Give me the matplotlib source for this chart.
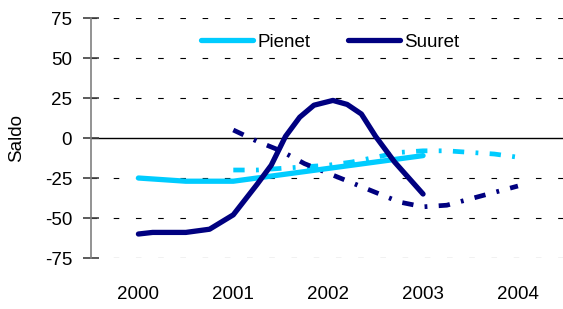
import matplotlib
matplotlib.use('Agg')
import matplotlib.pyplot as plt
import numpy as np

plt.rcParams['font.family'] = ['Liberation Sans Narrow', 'Liberation Sans', 'DejaVu Sans']
plt.rcParams['axes.unicode_minus'] = False

# neljännesvuodet (toteutunut)
pienet_x = [2000.0, 2000.25, 2000.5, 2000.75, 2001.0, 2001.25, 2001.5, 2001.75,
            2002.0, 2002.25, 2002.5, 2002.75, 2003.0]
pienet = [-25, -26, -27, -27, -27, -25, -23, -21, -19, -17, -15, -13, -11]

suuret_x = [2000.0, 2000.15, 2000.5, 2000.75, 2001.0, 2001.25, 2001.4, 2001.55, 2001.7,
            2001.85, 2002.05, 2002.2, 2002.35, 2002.5, 2002.7, 2003.0]
suuret = [-60, -59, -59, -57, -48, -29, -17, 1, 13, 20.5, 23.5, 21, 15, 1, -15, -35]

# ennusteet (katkoviiva)
ennuste_x = [2001.0, 2001.25, 2001.5, 2001.75, 2002.0, 2002.25, 2002.5, 2002.75,
             2003.0, 2003.25, 2003.5, 2003.75, 2004.0]
pienet_ennuste = [-20, -20, -19, -18, -17, -15, -12, -9, -8, -8, -9, -10, -12]
suuret_ennuste = [5, -2, -8, -16, -22, -28, -34, -40, -43, -42, -38, -34, -30]

years = [2000, 2001, 2002, 2003, 2004]
yticks = [-75, -50, -25, 0, 25, 50, 75]

cyan = '#00CCFF'
navy = '#000080'

fig = plt.figure(figsize=(5.63, 3.09), dpi=100)
ax = fig.add_axes([0.1616, 0.165, 0.8384, 0.7767])

# apuviivat
for v in yticks:
    if v == 0:
        ax.axhline(0, color='black', lw=1.0, zorder=1)
    else:
        ax.axhline(v, color='black', lw=0.8, dashes=(5, 15), zorder=1)

ax.plot(ennuste_x, pienet_ennuste, color=cyan, lw=3.4, dashes=(2.4, 2.4, 0.6, 2.4),
        dash_capstyle='butt', zorder=2)
ax.plot(ennuste_x, suuret_ennuste, color=navy, lw=3.4, dashes=(2.4, 2.4, 0.6, 2.4),
        dash_capstyle='butt', zorder=2)
ax.plot(pienet_x, pienet, color=cyan, lw=3.8, solid_capstyle='round',
        solid_joinstyle='round', label='Pienet', zorder=3)
ax.plot(suuret_x, suuret, color=navy, lw=3.8, solid_capstyle='round',
        solid_joinstyle='round', label='Suuret', zorder=3)

ax.set_xlim(1999.5, 2004.475)
ax.set_ylim(-75, 75)
ax.set_yticks(yticks)
ax.set_xticks(years)
ax.set_xticklabels([str(y) for y in years])

for s in ['top', 'right', 'bottom']:
    ax.spines[s].set_visible(False)
ax.spines['left'].set_color('#808080')
ax.spines['left'].set_linewidth(1.2)
ax.tick_params(axis='y', direction='inout', length=11, width=1.2, color='#404040',
               labelsize=13.5, pad=8)
ax.tick_params(axis='x', length=0, labelsize=13.5, pad=20)

ax.set_ylabel('Saldo', fontsize=13.5)
ax.yaxis.set_label_coords(-0.14, 0.5)

leg = ax.legend(loc='center', bbox_to_anchor=(0.506, 0.9), ncol=2, frameon=False,
                fontsize=13.5, handlelength=2.8, handletextpad=0.2, columnspacing=2.0)

fig.savefig('out.png', dpi=100)
